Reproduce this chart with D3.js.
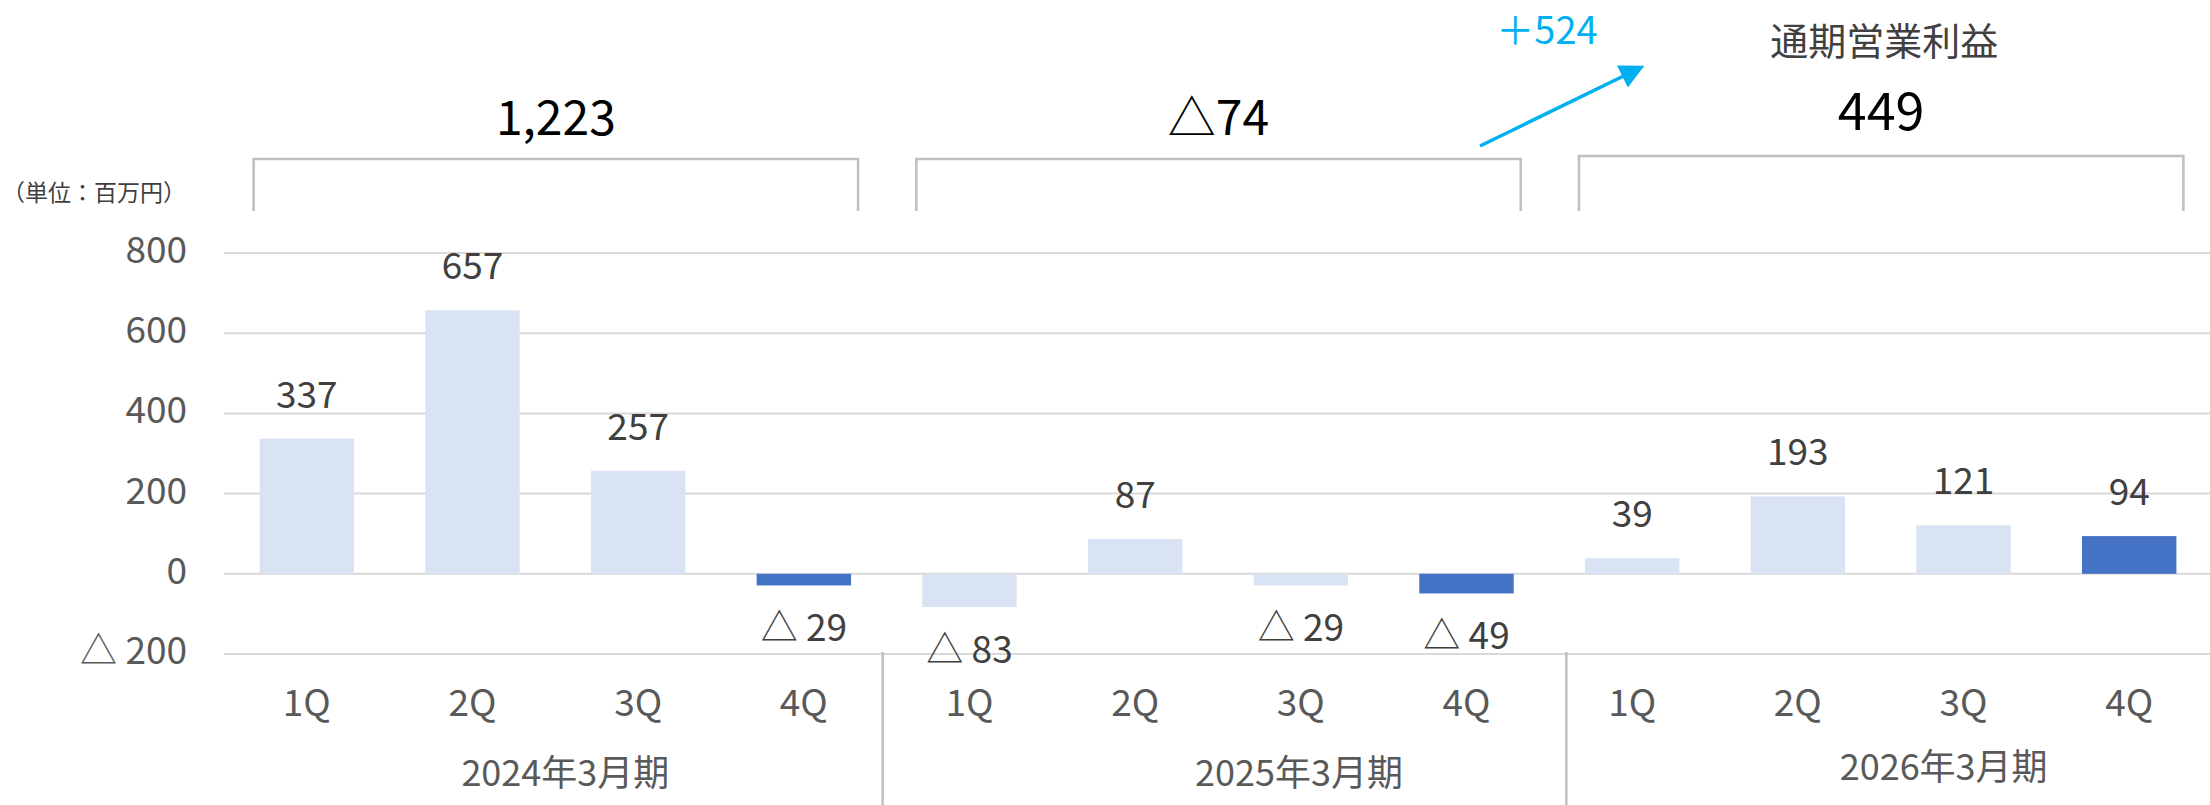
<!DOCTYPE html>
<html>
<head>
<meta charset="utf-8">
<script src="https://cdn.jsdelivr.net/npm/d3@7"></script>
<style>
  html, body { margin: 0; padding: 0; background: #fff; }
  svg { display: block; font-family: "Noto Sans CJK JP", "Noto Sans", sans-serif; }
</style>
</head>
<body>
<script>
// quarterly operating profit (単位：百万円)
const quarters = ['1Q', '2Q', '3Q', '4Q'];
const fiscalYears = ['2024年3月期', '2025年3月期', '2026年3月期'];
const profit = [337, 657, 257, -29, -83, 87, -29, -49, 39, 193, 121, 94];
const yearTotals = [1223, -74, 449];
const yTicks = [-200, 0, 200, 400, 600, 800];
const changeText = '＋524';
const titleText = '通期営業利益';
const unitText = '（単位：百万円）';

const
  WIDTH = 2210,
  HEIGHT = 805,
  LIGHT = '#DAE3F3',
  DARK = '#4472C4',
  GRID = '#D9D9D9',
  LINE = '#BFBFBF',
  TEXT = '#404040',
  AXIS_TEXT = '#595959',
  CYAN = '#00B0F0';

const fmt = (v) => (v < 0 ? '△ ' + Math.abs(v) : String(v));
const fmtTotal = (v) => (v < 0 ? '△' + d3.format(',')(Math.abs(v)) : d3.format(',')(v));

const rows = profit.map((v, i) => ({
  i,
  value : v,
  quarter : quarters[i % 4],
  year : Math.floor(i / 4)
}));

const svg = d3.select('body').append('svg')
  .attr('width', WIDTH)
  .attr('height', HEIGHT);

const x = d3.scaleBand()
  .domain(rows.map((d) => d.i))
  .range([224, 2212])
  .paddingInner(0.43)
  .paddingOuter(0.215);

const y = d3.scaleLinear()
  .domain([-200, 800])
  .range([654, 253]);

// gridlines
svg.append('g')
  .selectAll('line')
  .data(yTicks)
  .enter()
  .append('line')
  .attr('x1', 224)
  .attr('x2', WIDTH)
  .attr('y1', (t) => y(t))
  .attr('y2', (t) => y(t))
  .attr('stroke', GRID)
  .attr('stroke-width', 2);

// y tick labels
svg.append('g')
  .selectAll('text')
  .data(yTicks)
  .enter()
  .append('text')
  .attr('x', 187)
  .attr('y', (t) => y(t) + 10)
  .attr('text-anchor', 'end')
  .attr('fill', AXIS_TEXT)
  .style('font-size', '37px')
  .text((t) => fmt(t));

// bars
svg.append('g')
  .selectAll('rect')
  .data(rows)
  .enter()
  .append('rect')
  .attr('x', (d) => x(d.i))
  .attr('width', x.bandwidth())
  .attr('y', (d) => y(Math.max(0, d.value)))
  .attr('height', (d) => Math.abs(y(d.value) - y(0)))
  .attr('fill', (d) => (d.quarter === '4Q' ? DARK : LIGHT));

// value labels
svg.append('g')
  .selectAll('text')
  .data(rows)
  .enter()
  .append('text')
  .attr('x', (d) => x(d.i) + x.bandwidth() / 2)
  .attr('y', (d) => (d.value >= 0 ? y(d.value) - 31 : y(d.value) + 56))
  .attr('text-anchor', 'middle')
  .attr('fill', TEXT)
  .style('font-size', '37px')
  .text((d) => fmt(d.value));

// quarter labels
svg.append('g')
  .selectAll('text')
  .data(rows)
  .enter()
  .append('text')
  .attr('x', (d) => x(d.i) + x.bandwidth() / 2)
  .attr('y', 716)
  .attr('text-anchor', 'middle')
  .attr('fill', AXIS_TEXT)
  .style('font-size', '37px')
  .text((d) => d.quarter);

// separators between fiscal years (Excel draws them a little off the band edge)
const sepShift = [-4, 17];
[4, 8].forEach((k, j) => {
  let sx = (x(k - 1) + x.bandwidth() + x(k)) / 2 + sepShift[j];
  svg.append('line')
    .attr('x1', sx).attr('x2', sx)
    .attr('y1', 652).attr('y2', HEIGHT)
    .attr('stroke', LINE)
    .attr('stroke-width', 2.5);
});

// fiscal year labels
const yearLabelShift = [10, 81, 63];
const yearLabelBase = [786, 786, 780];
fiscalYears.forEach((label, j) => {
  let mid = (x(j * 4 + 1) + x(j * 4 + 2) + x.bandwidth()) / 2;
  svg.append('text')
    .attr('x', mid + yearLabelShift[j])
    .attr('y', yearLabelBase[j])
    .attr('text-anchor', 'middle')
    .attr('fill', AXIS_TEXT)
    .style('font-size', '36px')
    .text(label);
});

// brackets with yearly totals
yearTotals.forEach((total, j) => {
  let
    x0 = x(j * 4) - 6,
    x1 = x(j * 4 + 3) + x.bandwidth() + 7,
    top = j === 2 ? 156 : 159;

  svg.append('path')
    .attr('d', `M${x0},211 V${top} H${x1} V211`)
    .attr('fill', 'none')
    .attr('stroke', LINE)
    .attr('stroke-width', 2.5);

  svg.append('text')
    .attr('x', (x0 + x1) / 2)
    .attr('y', j === 2 ? 130 : 135)
    .attr('text-anchor', 'middle')
    .attr('fill', '#000')
    .style('font-size', j === 2 ? '52px' : '48px')
    .text(fmtTotal(total));
});

// title over the latest year
{
  let cx = (x(8) - 6 + x(11) + x.bandwidth() + 7) / 2;
  svg.append('text')
    .attr('x', cx + 3)
    .attr('y', 55)
    .attr('text-anchor', 'middle')
    .attr('fill', TEXT)
    .style('font-size', '38px')
    .text(titleText);
}

// unit note
svg.append('text')
  .attr('x', 2)
  .attr('y', 201)
  .attr('fill', TEXT)
  .style('font-size', '23px')
  .text(unitText);

// change arrow
svg.append('defs')
  .append('marker')
  .attr('id', 'head')
  .attr('viewBox', '0 0 10 10')
  .attr('refX', 8)
  .attr('refY', 5)
  .attr('markerWidth', 7)
  .attr('markerHeight', 7)
  .attr('markerUnits', 'strokeWidth')
  .attr('orient', 'auto')
  .append('path')
  .attr('d', 'M0,0 L10,5 L0,10 Z')
  .attr('fill', CYAN);

svg.append('line')
  .attr('x1', 1480).attr('y1', 146)
  .attr('x2', 1640).attr('y2', 68)
  .attr('stroke', CYAN)
  .attr('stroke-width', 3.5)
  .attr('marker-end', 'url(#head)');

svg.append('text')
  .attr('x', 1547)
  .attr('y', 44)
  .attr('text-anchor', 'middle')
  .attr('fill', CYAN)
  .style('font-size', '38px')
  .text(changeText);
</script>
</body>
</html>
